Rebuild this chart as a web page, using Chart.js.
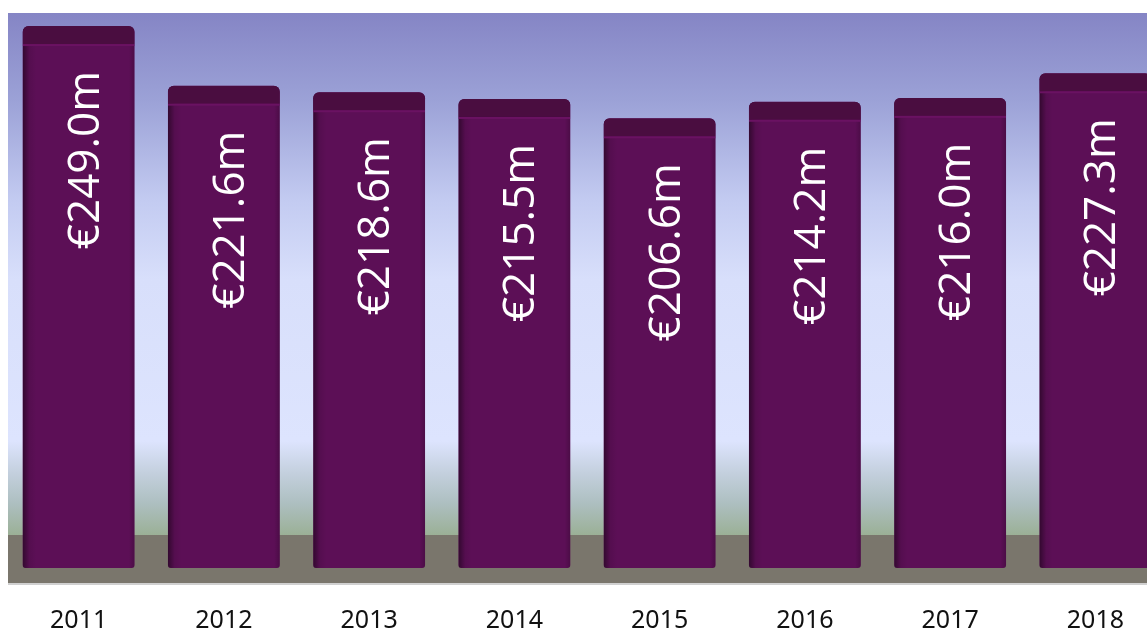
<!DOCTYPE html>
<html>
<head>
<meta charset="utf-8">
<script src="https://cdn.jsdelivr.net/npm/chart.js@4"></script>
<style>
  body { margin: 0; background: #fff; overflow: hidden; }
  #wrap { width: 1175px; height: 631px; }
</style>
</head>
<body>
<div id="wrap"><canvas id="myChart" width="1175" height="631"></canvas></div>
<script>
// data
const years = ['2011', '2012', '2013', '2014', '2015', '2016', '2017', '2018'];
const revenue = [249.0, 221.6, 218.6, 215.5, 206.6, 214.2, 216.0, 227.3];

const FLOOR_H = 48;

// sky gradient + grey floor behind the bars
const backdrop = {
    id: 'backdrop',
    beforeDatasetsDraw(chart) {
        const { ctx, chartArea: a } = chart;
        const floorTop = a.bottom - FLOOR_H;
        const g = ctx.createLinearGradient(0, a.top, 0, floorTop);
        g.addColorStop(0, '#8585c5');
        g.addColorStop(0.17, '#9ca2d7');
        g.addColorStop(0.36, '#c3cbf1');
        g.addColorStop(0.51, '#d8dffb');
        g.addColorStop(0.82, '#dde4fe');
        g.addColorStop(0.88, '#c4d0de');
        g.addColorStop(0.94, '#adbfc0');
        g.addColorStop(1, '#9bb096');
        ctx.save();
        ctx.fillStyle = g;
        ctx.fillRect(a.left + 2, a.top, a.right - a.left, floorTop - a.top);
        ctx.fillStyle = '#7a766c';
        ctx.fillRect(a.left + 2, floorTop, a.right - a.left, FLOOR_H);
        ctx.fillStyle = '#d0d0d0';
        ctx.fillRect(a.left + 2, a.bottom, a.right - a.left, 2);
        ctx.restore();
    }
};

// caps, edge shading and the rotated value labels
const barDecor = {
    id: 'barDecor',
    afterDatasetsDraw(chart) {
        const { ctx } = chart;
        const meta = chart.getDatasetMeta(0);
        meta.data.forEach((bar, i) => {
            const w = bar.width;
            const left = bar.x - w / 2;
            const top = bar.y;
            const bottom = bar.base;
            ctx.save();
            ctx.beginPath();
            ctx.roundRect(left, top, w, bottom - top, [6, 6, 3, 3]);
            ctx.clip();
            // left / right edge shading
            const hg = ctx.createLinearGradient(left, 0, left + w, 0);
            hg.addColorStop(0, 'rgba(0,0,0,0.45)');
            hg.addColorStop(0.06, 'rgba(0,0,0,0.08)');
            hg.addColorStop(0.12, 'rgba(0,0,0,0)');
            hg.addColorStop(0.95, 'rgba(0,0,0,0)');
            hg.addColorStop(1, 'rgba(0,0,0,0.18)');
            ctx.fillStyle = hg;
            ctx.fillRect(left, top, w, bottom - top);
            // top cap
            ctx.fillStyle = '#4a0d40';
            ctx.fillRect(left, top, w, 18);
            ctx.fillStyle = '#6a1262';
            ctx.fillRect(left, top + 18, w, 2);
            ctx.restore();

            // value label
            ctx.save();
            ctx.translate(bar.x, top + 45);
            ctx.rotate(-Math.PI / 2);
            ctx.fillStyle = '#ffffff';
            ctx.font = '44px "Open Sans"';
            ctx.textAlign = 'right';
            ctx.textBaseline = 'alphabetic';
            ctx.fillText('€' + revenue[i].toFixed(1) + 'm', 0, 20);
            ctx.restore();
        });
    }
};

const ctx = document.getElementById('myChart').getContext('2d');
const myChart = new Chart(ctx, {
    type: 'bar',
    data: {
        labels: years,
        datasets: [{
            data: revenue,
            backgroundColor: '#5c0f56',
            borderWidth: 0,
            borderSkipped: false,
            borderRadius: { topLeft: 6, topRight: 6, bottomLeft: 3, bottomRight: 3 },
            categoryPercentage: 1,
            barPercentage: 0.77
        }]
    },
    options: {
        responsive: false,
        animation: false,
        layout: { padding: { left: 6, right: 7, top: 13, bottom: 0 } },
        plugins: { legend: { display: false }, tooltip: { enabled: false } },
        scales: {
            x: {
                grid: { display: false },
                border: { display: false },
                ticks: {
                    color: '#111',
                    padding: 15,
                    font: { family: 'Noto Sans', size: 25 }
                },
                afterFit(scale) { scale.height = 48; }
            },
            y: {
                display: false,
                min: -6.9,
                max: 255
            }
        }
    },
    plugins: [backdrop, barDecor]
});
</script>
</body>
</html>
